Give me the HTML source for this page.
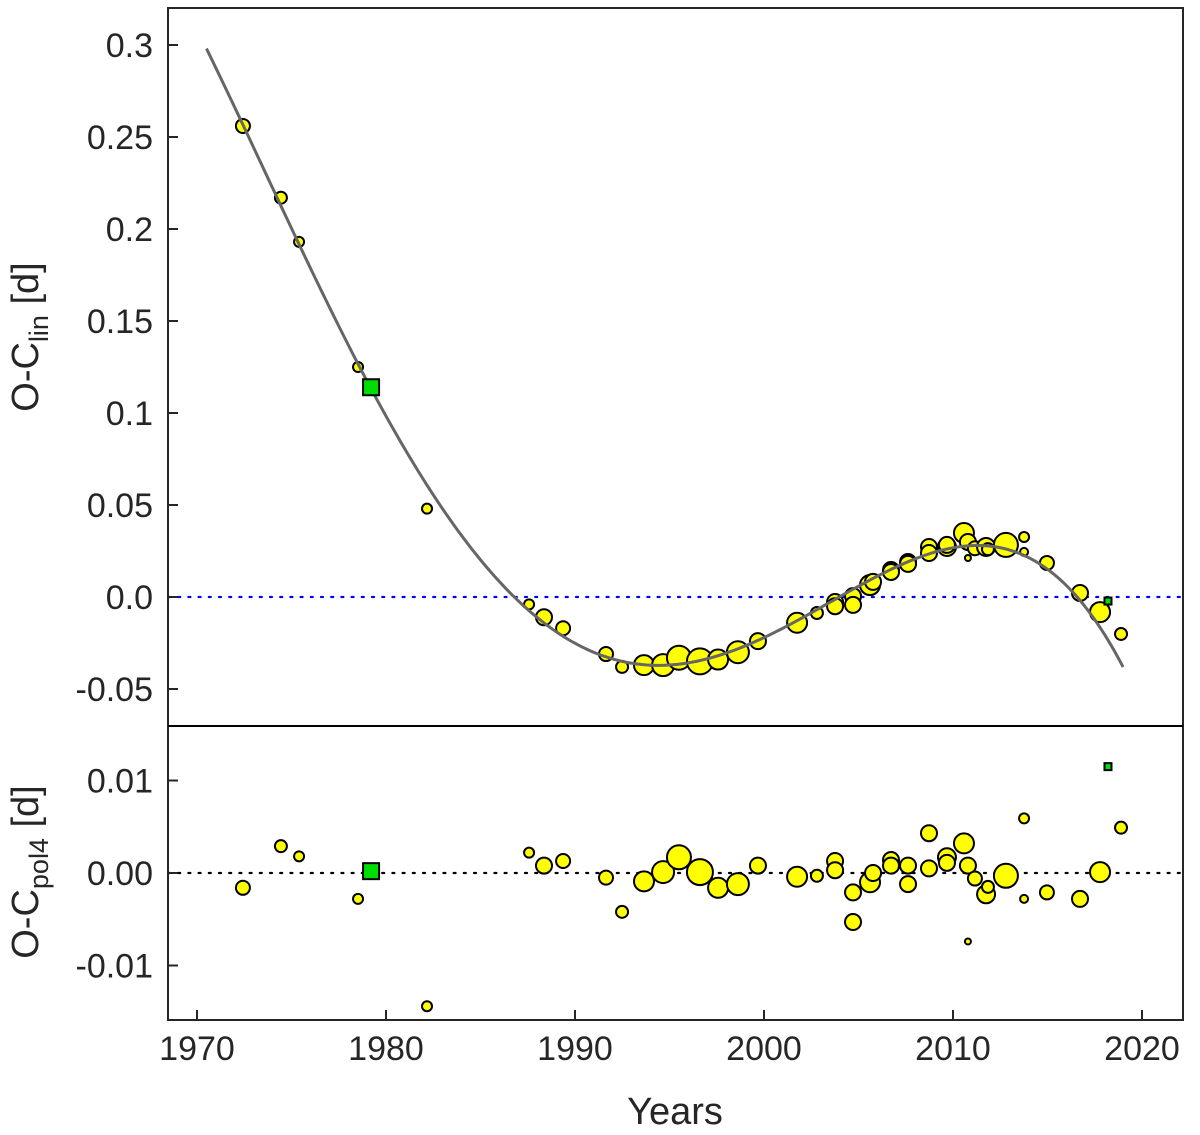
<!DOCTYPE html>
<html><head><meta charset="utf-8"><style>
body{margin:0;background:#fff}
svg{display:block;font-family:"Liberation Sans",sans-serif}
</style></head><body>
<svg id="chart" width="1200" height="1135" viewBox="0 0 1200 1135"></svg>
<script>
// ---- data ----
const years = [1972.43,1974.44,1975.40,1978.52,1982.17,1987.57,1988.36,1989.37,1991.64,1992.49,1993.65,1994.66,1995.50,1996.61,1997.57,1998.62,1999.68,2001.75,2002.80,2003.76,2003.76,2004.71,2004.71,2005.61,2005.77,2006.72,2006.72,2007.62,2007.62,2008.73,2008.73,2009.68,2009.68,2010.58,2010.79,2010.79,2011.16,2011.75,2011.85,2012.80,2013.76,2013.76,2014.97,2016.72,2017.78,2018.89];
const ocLin = [0.256,0.217,0.193,0.125,0.048,-0.004,-0.011,-0.017,-0.031,-0.038,-0.037,-0.037,-0.033,-0.035,-0.034,-0.030,-0.024,-0.014,-0.0087,-0.0027,-0.005,0.0005,-0.0043,0.0065,0.0082,0.0147,0.0136,0.019,0.018,0.0272,0.0239,0.0272,0.0283,0.0348,0.0299,0.0212,0.0265,0.0272,0.026,0.0283,0.0326,0.0245,0.0185,0.0022,-0.0082,-0.0201];
const ocPol4 = [-0.0016,0.0029,0.0018,-0.0028,-0.0144,0.0022,0.0008,0.0013,-0.0005,-0.0042,-0.0009,0.0001,0.0017,0.0001,-0.0016,-0.0012,0.0008,-0.0004,-0.0003,0.0013,0.0003,-0.0021,-0.0053,-0.001,0.0,0.0014,0.0008,0.0008,-0.0012,0.0043,0.0005,0.0017,0.0011,0.0032,0.0008,-0.0074,-0.0006,-0.0023,-0.0015,-0.0003,0.0059,-0.0028,-0.0021,-0.0028,0.0001,0.0049];
const weights = [7,6,5,5,5,5,8,7,7,6,10,11,12,13,10,11,8,10,6,8,8,8,8,10,8,8,8,8,8,8,8,9,8,10,8,3,7,9,6,12,5,4,7,8,10,6];
const sqYears = [1979.21, 2018.2];
const sqLin = [0.114, -0.0022];
const sqPol4 = [0.0002, 0.0115];
const sqSize = [16, 7];
const fitYears = [1970.5,1972,1974,1976,1978,1980,1982,1984,1986,1988,1990,1992,1994,1996,1998,2000,2002,2004,2006,2008,2010,2012,2014,2016,2018,2019];
const fitVals = [0.300,0.262,0.222,0.183,0.138,0.098,0.060,0.030,0.009,-0.008,-0.023,-0.032,-0.037,-0.037,-0.033,-0.024,-0.012,0.001,0.013,0.022,0.027,0.028,0.021,0.004,-0.020,-0.037];
const xTicks = [1970,1980,1990,2000,2010,2020];
const yTopTicks = [-0.05,0,0.05,0.1,0.15,0.2,0.25,0.3];
const yTopLabels = ["-0.05","0.0","0.05","0.1","0.15","0.2","0.25","0.3"];
const yBotTicks = [-0.01,0,0.01];
const yBotLabels = ["-0.01","0.00","0.01"];

// ---- scales ----
const L=168,R=1183,T1=8,B1=726,B2=1020;
const x = v => 197 + (v-1970)*18.9;
const yTop = v => 597 - v*1840;
const yBot = v => 873 - v*9250;
const svg = document.getElementById('chart');
const NS='http://www.w3.org/2000/svg';
function mk(tag, attrs, parent){const e=document.createElementNS(NS,tag);for(const k in attrs)e.setAttribute(k,attrs[k]);(parent||svg).appendChild(e);return e;}
const ink='#262626';
const FS=34;

// least-squares polynomial (degree 5) through sampled fit values
function polyfit(xs, ys, deg){
  const n=deg+1, m=xs.length, t0=1995, s=25;
  const A=[...Array(n)].map(()=>Array(n+1).fill(0));
  for(let k=0;k<m;k++){const u=(xs[k]-t0)/s;const p=[];for(let i=0;i<n;i++)p.push(Math.pow(u,i));
    for(let i=0;i<n;i++){for(let j=0;j<n;j++)A[i][j]+=p[i]*p[j];A[i][n]+=p[i]*ys[k];}}
  for(let i=0;i<n;i++){let mx=i;for(let r=i+1;r<n;r++)if(Math.abs(A[r][i])>Math.abs(A[mx][i]))mx=r;[A[i],A[mx]]=[A[mx],A[i]];
    for(let r=0;r<n;r++){if(r===i)continue;const f=A[r][i]/A[i][i];for(let c=i;c<=n;c++)A[r][c]-=f*A[i][c];}}
  const c=A.map((row,i)=>row[n]/row[i]);
  return t=>{const u=(t-t0)/s;let v=0;for(let i=n-1;i>=0;i--)v=v*u+c[i];return v;};
}

// zero lines
let z1=mk('line',{x1:L,x2:R,y1:yTop(0),y2:yTop(0),stroke:'#0000ff','stroke-width':2.2,'stroke-dasharray':'2 8.2','stroke-linecap':'round'});


let z2=mk('line',{x1:L,x2:R,y1:yBot(0),y2:yBot(0),stroke:'#000','stroke-width':2.2,'stroke-dasharray':'2 8.2','stroke-linecap':'round'});



// points
years.forEach((_,i)=>{
  let c=mk('circle',{cx:x(years[i]),cy:yTop(ocLin[i]),r:weights[i],fill:'#ffff00',stroke:'#000','stroke-width':2});
  
  
  let c2=mk('circle',{cx:x(years[i]),cy:yBot(ocPol4[i]),r:weights[i],fill:'#ffff00',stroke:'#000','stroke-width':2});
  
  
});

// fit curve
const fn=polyfit(fitYears,fitVals,5);
const t0=fitYears[0], t1=fitYears[fitYears.length-1];
let d='';
for(let k=0;k<=200;k++){const t=t0+(t1-t0)*k/200;d+=(k?'L':'M')+x(t).toFixed(2)+','+yTop(fn(t)).toFixed(2);}
let fit=mk('path',{d:d,fill:'none',stroke:'#666','stroke-width':3});



sqYears.forEach((t,i)=>{const s=sqSize[i];
  let r1=mk('rect',{x:x(t)-s/2,y:yTop(sqLin[i])-s/2,width:s,height:s,fill:'#00dd00',stroke:'#000','stroke-width':2});
  
  
  let r2=mk('rect',{x:x(t)-s/2,y:yBot(sqPol4[i])-s/2,width:s,height:s,fill:'#00dd00',stroke:'#000','stroke-width':2});
  
  
});

// frames
let f=mk('path',{d:`M${L},${T1}H${R}V${B2}H${L}Z`,fill:'none',stroke:ink,'stroke-width':2});


let dv=mk('line',{x1:L,x2:R,y1:B1,y2:B1,stroke:'#000','stroke-width':2});



// ticks & labels
xTicks.forEach(t=>{
  let tk=mk('line',{x1:x(t),x2:x(t),y1:B2,y2:B2-10,stroke:ink,'stroke-width':2});
  
  
  let tx=mk('text',{x:x(t),y:1060,'text-anchor':'middle','font-size':FS,fill:ink});
  tx.textContent=t;
  
  
});
yTopTicks.forEach((t,i)=>{
  let tk=mk('line',{x1:L,x2:L+10,y1:yTop(t),y2:yTop(t),stroke:ink,'stroke-width':2});
  
  
  let tx=mk('text',{x:153,y:yTop(t)+12,'text-anchor':'end','font-size':FS,fill:ink});
  tx.textContent=yTopLabels[i];
  
  
});
yBotTicks.forEach((t,i)=>{
  let tk=mk('line',{x1:L,x2:L+10,y1:yBot(t),y2:yBot(t),stroke:ink,'stroke-width':2});
  
  
  let tx=mk('text',{x:153,y:yBot(t)+12,'text-anchor':'end','font-size':FS,fill:ink});
  tx.textContent=yBotLabels[i];
  
  
});
</script>
<svg style="position:absolute;left:0;top:0" width="1200" height="1135">
<text x="675" y="1124" text-anchor="middle" font-size="38" fill="#262626" font-family="Liberation Sans, sans-serif">Years</text>
<text transform="translate(38,337) rotate(-90)" text-anchor="middle" font-size="38" fill="#262626" font-family="Liberation Sans, sans-serif">O-C<tspan font-size="27" dy="10">lin</tspan><tspan dy="-10"> [d]</tspan></text>
<text transform="translate(38,872) rotate(-90)" text-anchor="middle" font-size="38" fill="#262626" font-family="Liberation Sans, sans-serif">O-C<tspan font-size="27" dy="10">pol4</tspan><tspan dy="-10"> [d]</tspan></text>
</svg>
</body></html>
